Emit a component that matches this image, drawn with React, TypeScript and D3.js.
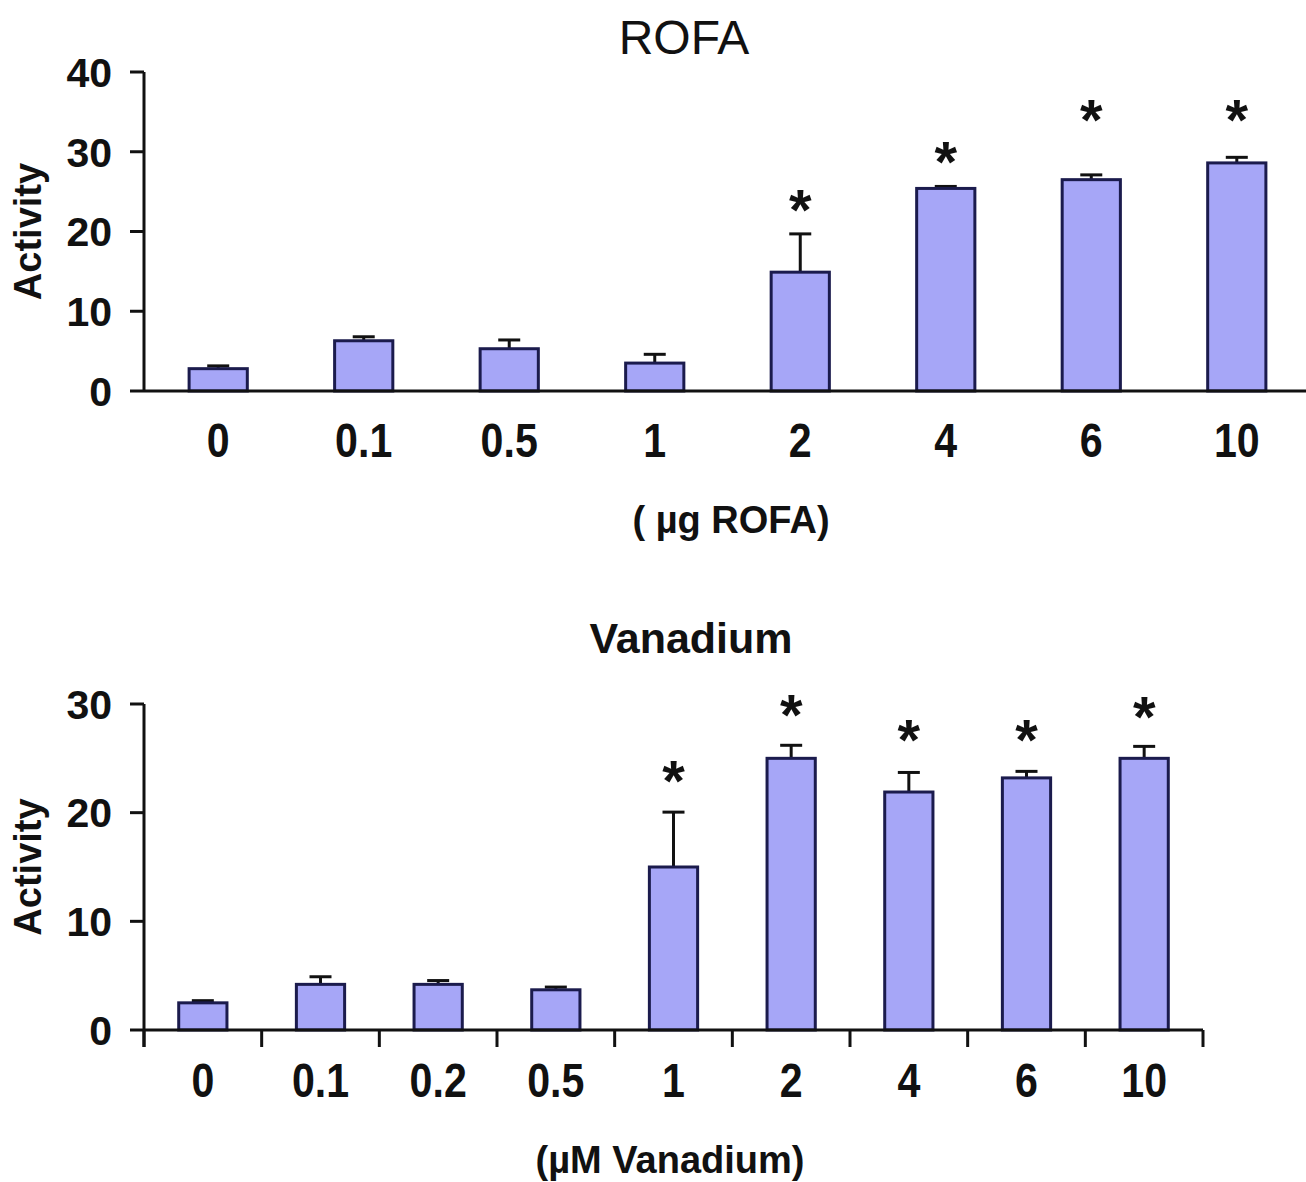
import * as d3 from "d3";

// ROFA panel
const rofaDoses = ["0", "0.1", "0.5", "1", "2", "4", "6", "10"];
const rofaMean = [2.8, 6.3, 5.3, 3.5, 14.9, 25.4, 26.5, 28.6];
const rofaErr = [0.35, 0.5, 1.1, 1.1, 4.8, 0.25, 0.6, 0.7];
const rofaStar = [null, null, null, null, 24.2, 30.2, 35.5, 35.5];
const rofaTicks = [0, 10, 20, 30, 40];

// Vanadium panel
const vanDoses = ["0", "0.1", "0.2", "0.5", "1", "2", "4", "6", "10"];
const vanMean = [2.5, 4.2, 4.2, 3.7, 15.0, 25.0, 21.9, 23.2, 25.0];
const vanErr = [0.2, 0.7, 0.35, 0.25, 5.05, 1.2, 1.8, 0.6, 1.1];
const vanStar = [null, null, null, null, 24.0, 30.1, 27.8, 27.8, 29.9];
const vanTicks = [0, 10, 20, 30];

const FONT = "'Liberation Sans', Arial, sans-serif";
const barFill = "#a6a6f7";
const barStroke = "#1b1b4d";
const ink = "#111";

type PanelProps = {
  doses: string[];
  mean: number[];
  err: number[];
  star: (number | null)[];
  ticks: number[];
  yMax: number;
  top: number;
  bottom: number;
  xRange: [number, number];
  padInner: number;
  padOuter: number;
  axisEnd: number;
  xTicks: boolean;
  labelBase: number;
  title: string;
  titleX: number;
  titleY: number;
  titleWeight: string;
  titleSize: number;
  xTitle: string;
  xTitleX: number;
  xTitleY: number;
};

function Panel(p: PanelProps) {
  const x = d3.scaleBand<string>().domain(p.doses).range(p.xRange)
    .paddingInner(p.padInner).paddingOuter(p.padOuter);
  const y = d3.scaleLinear().domain([0, p.yMax]).range([p.bottom, p.top]);
  const x0 = p.xRange[0];
  const bw = x.bandwidth();
  const starSize = 58;
  const midY = (y(0) + y(p.yMax)) / 2;

  // category boundaries for the tick marks under the axis
  const bounds = p.doses.map((d) => (x(d) as number) - (x.step() * p.padInner) / 2);
  bounds.push(p.xRange[1]);

  return (
    <g>
      <text x={p.titleX} y={p.titleY} textAnchor="middle" fontFamily={FONT}
        fontSize={p.titleSize} fontWeight={p.titleWeight} fill={ink}>{p.title}</text>

      {p.doses.map((d, i) => {
        const cx = (x(d) as number) + bw / 2;
        const eTop = y(p.mean[i] + p.err[i]);
        return (
          <g key={d}>
            <line x1={cx} x2={cx} y1={y(p.mean[i])} y2={eTop} stroke={ink} strokeWidth={3} />
            <line x1={cx - 11} x2={cx + 11} y1={eTop} y2={eTop} stroke={ink} strokeWidth={3} />
            <rect x={x(d)} y={y(p.mean[i])} width={bw} height={y(0) - y(p.mean[i])}
              fill={barFill} stroke={barStroke} strokeWidth={3} />
            {p.star[i] != null && (
              <text x={cx} y={y(p.star[i] as number) + starSize * 0.55} textAnchor="middle"
                fontFamily={FONT} fontWeight="bold" fontSize={starSize} fill={ink}>*</text>
            )}
            <text transform={`translate(${cx}, ${p.labelBase}) scale(0.84, 1)`} textAnchor="middle"
              fontFamily={FONT} fontWeight="bold" fontSize={49} fill={ink}>{d}</text>
          </g>
        );
      })}

      {/* y axis */}
      <line x1={x0} x2={x0} y1={y(p.yMax)} y2={p.xTicks ? y(0) + 17 : y(0)} stroke={ink} strokeWidth={3} />
      {p.ticks.map((t) => (
        <g key={t}>
          <line x1={x0 - 14} x2={x0} y1={y(t)} y2={y(t)} stroke={ink} strokeWidth={3} />
          <text x={x0 - 32} y={y(t)} dy="0.36em" textAnchor="end" fontFamily={FONT}
            fontWeight="bold" fontSize={41} fill={ink}>{t}</text>
        </g>
      ))}
      <text transform={`translate(41, ${midY}) rotate(-90)`} textAnchor="middle"
        fontFamily={FONT} fontWeight="bold" fontSize={38} fill={ink}>Activity</text>

      {/* x axis */}
      <line x1={x0} x2={p.axisEnd} y1={y(0)} y2={y(0)} stroke={ink} strokeWidth={3} />
      {p.xTicks && bounds.map((b, i) => (
        <line key={i} x1={b} x2={b} y1={y(0)} y2={y(0) + 17} stroke={ink} strokeWidth={3} />
      ))}
      <text x={p.xTitleX} y={p.xTitleY} textAnchor="middle" fontFamily={FONT}
        fontWeight="bold" fontSize={38} fill={ink}>{p.xTitle}</text>
    </g>
  );
}

export default function App() {
  return (
    <svg width={1306} height={1182} style={{ position: "absolute", left: 0, top: 0, background: "#fff" }}>
      <rect width={1306} height={1182} fill="#fff" />
      <Panel doses={rofaDoses} mean={rofaMean} err={rofaErr} star={rofaStar} ticks={rofaTicks}
        yMax={40} top={72} bottom={391} xRange={[144, 1311]} padInner={0.6} padOuter={0.31}
        axisEnd={1306} xTicks={false} labelBase={457}
        title="ROFA" titleX={684} titleY={54} titleWeight="500" titleSize={48}
        xTitle="( µg ROFA)" xTitleX={731} xTitleY={533} />
      <Panel doses={vanDoses} mean={vanMean} err={vanErr} star={vanStar} ticks={vanTicks}
        yMax={30} top={704} bottom={1030} xRange={[144, 1203]} padInner={0.59} padOuter={0.295}
        axisEnd={1203} xTicks={true} labelBase={1097}
        title="Vanadium" titleX={691} titleY={653} titleWeight="bold" titleSize={43}
        xTitle="(µM Vanadium)" xTitleX={670} xTitleY={1173} />
    </svg>
  );
}
